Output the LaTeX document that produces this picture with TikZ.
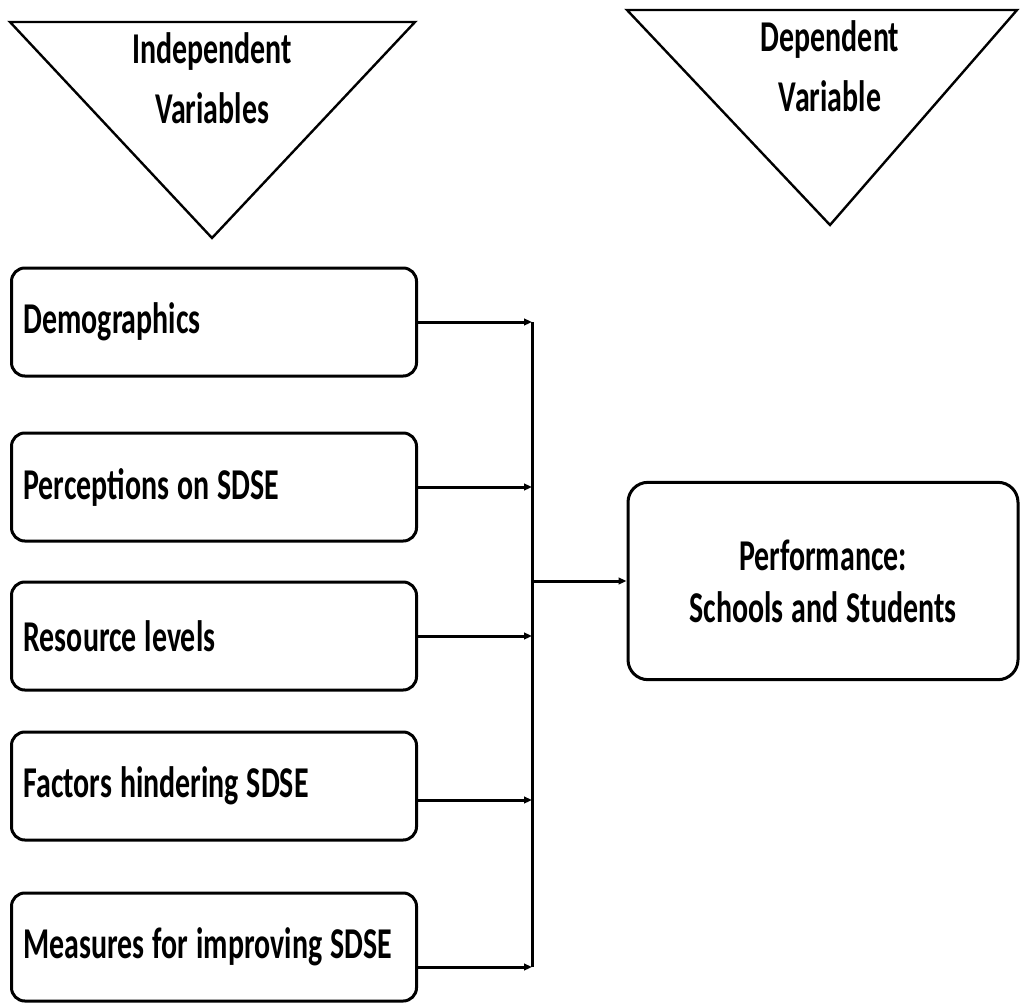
\documentclass[tikz,border=0pt]{standalone}
\usepackage{fontspec}
\setmainfont{Carlito}[FakeStretch=0.68]
\usetikzlibrary{arrows.meta}

\newcommand\boxfont[1]{\fontsize{33}{#1}\selectfont\bfseries}

\tikzset{every picture/.style={line width=2.25pt}}
\tikzset{
  tight space/.style={execute at begin node={\spaceskip=6pt\xspaceskip=6pt\relax}},
  varbox/.style={draw, rounded corners=10pt, anchor=west, text width=285.75pt, align=left,
    inner xsep=9pt, minimum height=81pt, font=\boxfont{39}, tight space},
  perfbox/.style={draw, rounded corners=15pt, text width=274.5pt, align=center,
    inner xsep=9pt, minimum height=148pt, font=\boxfont{39}, tight space},
  headtext/.style={align=center, inner sep=0pt, font=\boxfont{45}, tight space},
  headtri/.style={line width=1.8pt, line join=miter},
  feed/.style={-{Triangle[length=6pt,width=5pt]}},
}

\begin{document}
\begin{tikzpicture}[x=0.75pt,y=0.75pt,yscale=-1,xscale=1]
\useasboundingbox (0,0) rectangle (1020,1003);

%Shape: Triangle
\draw [headtri] (10,22) -- (415,22) -- (212,238) -- cycle ;
%Shape: Triangle
\draw [headtri] (627,10) -- (1017,10) -- (830,225) -- cycle ;

% Text Node
\node (indep) [headtext] at (212,78) {Independent\\Variables};
% Text Node
\node (dep) [headtext] at (830,66) {Dependent\\Variable};

%Shape: Rounded Rect
\node (demog) [varbox] at (10,322) {Demographics};
%Shape: Rounded Rect
\node (percep) [varbox] at (10,487) {Perceptions on SDSE};
%Shape: Rounded Rect
\node (resource) [varbox] at (10,636) {Resource levels};
%Shape: Rounded Rect
\node (factors) [varbox] at (10,786) {Factors hindering SDSE};
%Shape: Rounded Rect
\node (measures) [varbox] at (10,947) {Measures for improving SDSE};
%Shape: Rounded Rect
\node (perf) [perfbox] at (823,581) {Performance:\\Schools and Students};

%Straight Lines
\coordinate (bustop) at (532,322);
\coordinate (j4) at (532,800);
\coordinate (busbot) at (532,967);
\draw (bustop) -- (busbot);
\draw [feed] (demog.east) -- (demog.east -| bustop);
\draw [feed] (percep.east) -- (percep.east -| bustop);
\draw [feed] (resource.east) -- (resource.east -| bustop);
\draw [feed] (j4 -| factors.east) -- (j4);
\draw [feed] (busbot -| measures.east) -- (busbot);
\draw [feed] (bustop |- perf.west) -- (perf.west);

\end{tikzpicture}
\end{document}
